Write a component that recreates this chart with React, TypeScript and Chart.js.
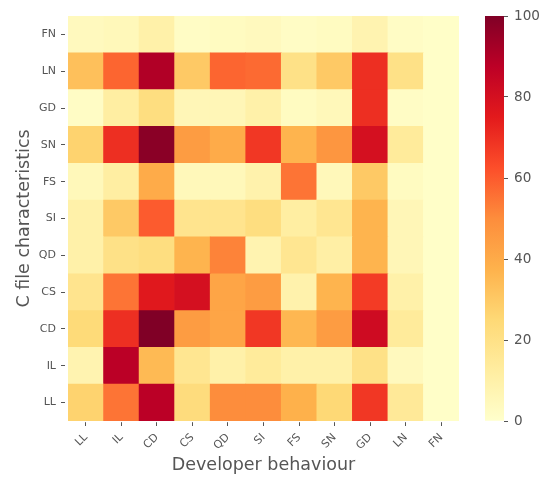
import React, { useEffect, useRef } from "react";
import { Chart, registerables } from "chart.js";
Chart.register(...registerables);

// Developer behaviour (x) categories
const xLabels = ["LL", "IL", "CD", "CS", "QD", "SI", "FS", "SN", "GD", "LN", "FN"];
// C file characteristics (y) categories, bottom to top
const yLabels = ["LL", "IL", "CD", "CS", "QD", "SI", "FS", "SN", "GD", "LN", "FN"];

// values per row (same order as yLabels), each row across xLabels
const rowLL = [27, 55, 88, 23, 50, 50, 38, 25, 68, 15, 1];
const rowIL = [8, 88, 35, 17, 10, 14, 10, 10, 20, 4, 1];
const rowCD = [24, 70, 100, 45, 42, 68, 36, 45, 82, 14, 1];
const rowCS = [18, 55, 76, 80, 42, 45, 9, 37, 67, 10, 1];
const rowQD = [10, 20, 22, 37, 52, 8, 17, 11, 37, 6, 1];
const rowSI = [10, 30, 60, 18, 18, 22, 12, 17, 37, 6, 1];
const rowFS = [5, 12, 40, 5, 5, 9, 55, 5, 30, 3, 1];
const rowSN = [27, 70, 98, 45, 40, 68, 37, 47, 80, 14, 1];
const rowGD = [2, 12, 22, 6, 6, 10, 3, 5, 70, 2, 1];
const rowLN = [33, 58, 90, 30, 58, 57, 20, 30, 70, 20, 1];
const rowFN = [4, 5, 10, 2, 3, 4, 2, 3, 8, 2, 1];

const rows = [rowLL, rowIL, rowCD, rowCS, rowQD, rowSI, rowFS, rowSN, rowGD, rowLN, rowFN];

const cbTicks = [0, 20, 40, 60, 80, 100];

const YLORRD = [
  [255, 255, 204],
  [255, 237, 160],
  [254, 217, 118],
  [254, 178, 76],
  [253, 141, 60],
  [252, 78, 42],
  [227, 26, 28],
  [189, 0, 38],
  [128, 0, 38],
];

function cmap(v: number): string {
  const t = Math.max(0, Math.min(1, v / 100)) * (YLORRD.length - 1);
  const i = Math.min(YLORRD.length - 2, Math.floor(t));
  const f = t - i;
  const a = YLORRD[i];
  const b = YLORRD[i + 1];
  const c = a.map((x, k) => Math.round(x + (b[k] - x) * f));
  return `rgb(${c[0]},${c[1]},${c[2]})`;
}

const FONT = "'DejaVu Sans', sans-serif";
const TXT = "#555555";

export default function App() {
  const mainRef = useRef<HTMLCanvasElement>(null);
  const cbRef = useRef<HTMLCanvasElement>(null);

  useEffect(() => {
    const datasets = rows.map((row, r) => ({
      label: yLabels[r],
      data: row.map(() => [r - 0.5, r + 0.5]),
      backgroundColor: row.map((v) => cmap(v)),
      borderWidth: 0,
      barPercentage: 1,
      categoryPercentage: 1,
      grouped: false,
    }));

    const main = new Chart(mainRef.current!, {
      type: "bar",
      data: { labels: xLabels, datasets: datasets as any },
      options: {
        animation: false,
        responsive: false,
        maintainAspectRatio: false,
        layout: { padding: { left: 0, top: 16, right: 11, bottom: 0 } },
        plugins: { legend: { display: false }, tooltip: { enabled: false } },
        scales: {
          x: {
            type: "category",
            offset: true,
            grid: {
              display: true,
              drawOnChartArea: false,
              drawTicks: true,
              tickLength: 5,
              tickColor: TXT,
              tickBorderDash: [0.01, 1.2, 4, 10],
              offset: false,
            },
            border: { display: false },
            ticks: {
              color: TXT,
              font: { family: FONT, size: 11 },
              maxRotation: 45,
              minRotation: 45,
              padding: 5,
            },
            title: {
              display: true,
              text: "Developer behaviour",
              color: TXT,
              font: { family: FONT, size: 17.5 },
              padding: { top: 0, bottom: 3.5 },
            },
            afterFit: (s: any) => {
              s.height = 58;
            },
          },
          y: {
            type: "linear",
            min: -0.5,
            max: 10.5,
            grid: {
              display: true,
              drawOnChartArea: false,
              drawTicks: true,
              tickLength: 7,
              tickColor: TXT,
              tickBorderDash: [4, 10],
            },
            border: { display: false },
            afterBuildTicks: (s: any) => {
              s.ticks = yLabels.map((_, i) => ({ value: i }));
            },
            ticks: {
              color: TXT,
              font: { family: FONT, size: 11 },
              padding: 5,
              callback: (v: any) => yLabels[Math.round(Number(v))] ?? "",
            },
            title: {
              display: true,
              text: "C file characteristics",
              color: TXT,
              font: { family: FONT, size: 17.5 },
              padding: { top: 13.5, bottom: 0 },
            },
            afterFit: (s: any) => {
              s.width = 68;
            },
          },
        },
      },
    });

    const cb = new Chart(cbRef.current!, {
      type: "bar",
      data: {
        labels: ["cb"],
        datasets: [
          {
            data: [[0, 100]] as any,
            borderWidth: 0,
            barPercentage: 1,
            categoryPercentage: 1,
            backgroundColor: (ctx: any) => {
              const area = ctx.chart.chartArea;
              if (!area) return cmap(50);
              const g = ctx.chart.ctx.createLinearGradient(0, area.bottom, 0, area.top);
              YLORRD.forEach((c, i) => {
                g.addColorStop(i / (YLORRD.length - 1), `rgb(${c[0]},${c[1]},${c[2]})`);
              });
              return g;
            },
          },
        ],
      },
      options: {
        animation: false,
        responsive: false,
        maintainAspectRatio: false,
        layout: { padding: { left: 15, top: 16, right: 0, bottom: 58 } },
        plugins: { legend: { display: false }, tooltip: { enabled: false } },
        scales: {
          x: { display: false },
          y: {
            position: "right",
            min: 0,
            max: 100,
            afterBuildTicks: (s: any) => {
              s.ticks = cbTicks.map((v) => ({ value: v }));
            },
            grid: {
              display: true,
              drawOnChartArea: false,
              drawTicks: true,
              tickLength: 4,
              tickColor: TXT,
            },
            border: { display: false },
            ticks: {
              color: TXT,
              font: { family: FONT, size: 13.6 },
              padding: 6,
            },
            afterFit: (s: any) => {
              s.width = 43;
            },
          },
        },
      },
    });

    return () => {
      main.destroy();
      cb.destroy();
    };
  }, []);

  return (
    <div style={{ position: "absolute", left: 0, top: 0, width: 547, height: 479, background: "#fff" }}>
      <canvas ref={mainRef} width={470} height={479} style={{ position: "absolute", left: 0, top: 0 }} />
      <canvas ref={cbRef} width={77} height={479} style={{ position: "absolute", left: 470, top: 0 }} />
    </div>
  );
}
